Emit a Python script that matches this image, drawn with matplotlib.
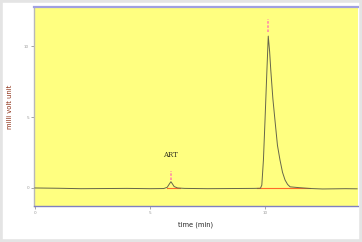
import matplotlib
matplotlib.use("Agg")
import matplotlib.pyplot as plt
from matplotlib.patches import Rectangle

# chromatogram trace (time in min, signal in mV units)
time = [0.0, 1.0, 2.0, 3.0, 4.0, 5.0, 5.6, 5.75, 5.85, 5.91, 5.97, 6.05, 6.2, 6.5,
        7.5, 8.5, 9.5, 9.8, 9.86, 9.93, 10.0, 10.07, 10.14, 10.2, 10.25, 10.34,
        10.43, 10.54, 10.65, 10.76, 10.87, 10.98, 11.09, 11.5, 12.0, 12.5, 13.0,
        13.5, 14.0]
signal = [0.0, -0.02, -0.05, -0.04, -0.03, -0.05, -0.04, 0.05, 0.3, 0.44, 0.3, 0.1,
          0.0, -0.03, -0.05, -0.04, -0.03, -0.02, 0.2, 1.97, 4.8, 7.8, 10.7, 9.6,
          8.3, 6.3, 4.8, 3.0, 1.97, 1.1, 0.56, 0.25, 0.08, 0.02, -0.04, -0.07,
          -0.06, -0.05, -0.06]

# integrated peaks: apex, marker span, baseline start/end
peak_rt = [5.91, 10.14]
peak_mark_lo = [0.56, 11.0]
peak_mark_hi = [1.22, 11.9]
base_start = [5.73, 9.65]
base_end = [6.3, 11.96]
peak_name = ["ART", ""]

xticks = [0, 5, 10]
yticks = [0, 5, 10]

fig = plt.figure(figsize=(3.62, 2.42), dpi=100)
fig.patch.set_facecolor("white")
fig.patches.append(Rectangle((0, 0), 1, 1, transform=fig.transFigure, fill=False,
                             edgecolor="#e4e4e4", lw=4))
ax = fig.add_axes([34/362, 36/242, 324/362, 199/242])
ax.set_facecolor("#ffff80")

for i in range(len(peak_rt)):
    ax.plot([base_start[i], base_end[i]], [0, 0], color="#ff6a2a", lw=0.8, zorder=2)
ax.plot(time, signal, color="#66664a", lw=0.7, zorder=3)
for i in range(len(peak_rt)):
    ax.plot([peak_rt[i], peak_rt[i]], [peak_mark_lo[i], peak_mark_hi[i]],
            color="#ff8aa8", lw=1.2, ls=(0, (1.5, 1)), zorder=4)
    if peak_name[i]:
        ax.text(peak_rt[i], 2.05, peak_name[i], ha="center", va="bottom",
                fontsize=5, family="DejaVu Serif", color="#333320")

ax.set_xlim(-0.04, 14.04)
ax.set_ylim(-1.27, 12.75)
ax.set_xticks(xticks)
ax.set_yticks(yticks)
ax.tick_params(labelsize=3, colors="#999999", length=2, width=0.6, pad=1.5)

ax.spines["top"].set_color("#a0a0e0")
ax.spines["top"].set_linewidth(1.6)
ax.spines["bottom"].set_color("#8080c0")
ax.spines["bottom"].set_linewidth(1)
ax.spines["left"].set_color("#b8b8b8")
ax.spines["left"].set_linewidth(1)
ax.spines["right"].set_visible(False)

ax.set_xlabel("time (min)", fontsize=4.8, color="#222222")
ax.xaxis.set_label_coords(0.5, -0.08)
ax.set_ylabel("milli volt unit", fontsize=4.9, color="#8a2a10")
ax.yaxis.set_label_coords(-0.065, 0.5)

fig.savefig("out.png", dpi=100)
